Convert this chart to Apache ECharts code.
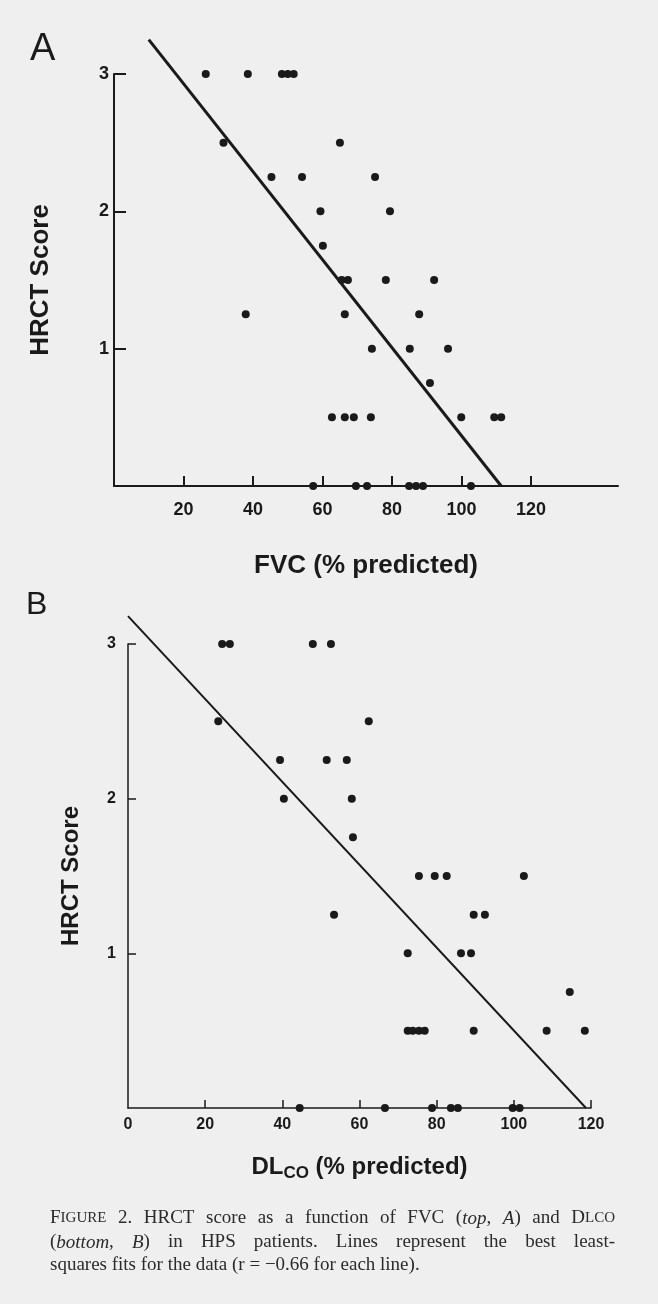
<!DOCTYPE html>
<html>
<head>
<meta charset="utf-8">
<script src="https://cdn.jsdelivr.net/npm/echarts@6.0.0/dist/echarts.min.js"></script>
<style>
  html, body { margin: 0; padding: 0; background: #efefef; }
  #chart { width: 658px; height: 1304px; }
</style>
</head>
<body>
<div id="chart"></div>
<script>
// panel A: HRCT score vs FVC
const fvcA = [26.4, 38.5, 48.3, 50.0, 51.7, 31.5, 65.0, 45.3, 54.1, 75.1, 59.4, 79.4, 60.1,
    65.5, 67.3, 78.2, 92.1, 37.9, 66.4, 87.8, 74.2, 85.1, 96.1, 90.9,
    62.7, 66.4, 69.0, 73.9, 99.9, 109.4, 111.4, 57.3, 69.6, 72.8, 84.9, 86.9, 88.9, 102.7];
const scoreA = [3, 3, 3, 3, 3, 2.5, 2.5, 2.25, 2.25, 2.25, 2, 2, 1.75,
    1.5, 1.5, 1.5, 1.5, 1.25, 1.25, 1.25, 1, 1, 1, 0.75,
    0.5, 0.5, 0.5, 0.5, 0.5, 0.5, 0.5, 0, 0, 0, 0, 0, 0, 0];
const fitAx = [10, 111.4];
const fitAy = [3.25, 0];

// panel B: HRCT score vs DLCO
const dlcoB = [24.4, 26.4, 47.9, 52.6, 23.4, 62.4, 39.4, 51.5, 56.7, 40.4, 58.0, 58.3,
    75.4, 79.5, 82.6, 102.6, 53.4, 89.6, 92.5, 72.5, 86.3, 88.9, 114.5,
    72.5, 73.8, 75.4, 76.9, 89.6, 108.5, 118.4, 44.5, 66.6, 78.8, 83.7, 85.5, 99.7, 101.5];
const scoreB = [3, 3, 3, 3, 2.5, 2.5, 2.25, 2.25, 2.25, 2, 2, 1.75,
    1.5, 1.5, 1.5, 1.5, 1.25, 1.25, 1.25, 1, 1, 1, 0.75,
    0.5, 0.5, 0.5, 0.5, 0.5, 0.5, 0.5, 0, 0, 0, 0, 0, 0, 0];
const fitBx = [0, 118.7];
const fitBy = [3.18, 0];

// ticks
const xTicksA = [20, 40, 60, 80, 100, 120];
const xLabelsB = [0, 20, 40, 60, 80, 100, 120];
const xTicksB = [20, 40, 60, 80, 100, 120];
const yTicks = [1, 2, 3];

// caption, word by word: [style, text] pieces
const captionLine1 = [[['n', 'F'], ['sc', 'IGURE']], [['n', '2.']], 'HRCT', 'score', 'as', 'a', 'function', 'of', 'FVC',
    [['n', '('], ['i', 'top'], ['n', ',']], [['i', 'A'], ['n', ')']], 'and', [['n', 'D'], ['sc', 'LCO']]];
const captionLine2 = [[['n', '('], ['i', 'bottom'], ['n', ',']], [['i', 'B'], ['n', ')']], 'in', 'HPS', 'patients.',
    'Lines', 'represent', 'the', 'best', 'least-'];
const captionLine3 = ['squares', 'fits', 'for', 'the', 'data', '(r', '=', '\u22120.66', 'for', 'each', 'line).'];

const ink = '#1a1a1a';
const capInk = '#2b2b2b';
const sans = '"Liberation Sans", Arial, Helvetica, sans-serif';
const serif = '"Liberation Serif", "Times New Roman", serif';
const capSize = 19;

const pairs = (xs, ys) => xs.map((x, i) => [x, ys[i]]);

const capFonts = {
    n: capSize + 'px ' + serif,
    sc: Math.round(capSize * 0.78) + 'px ' + serif,
    i: 'italic ' + capSize + 'px ' + serif
};

const measureCtx = document.createElement('canvas').getContext('2d');
const pieceWidth = (style, text) => {
    measureCtx.font = capFonts[style];
    return measureCtx.measureText(text).width;
};

// builds one caption line as rich text; justified lines get stretched spaces
const buildLine = (words, key, justifyTo) => {
    const parts = words.map((w) => (typeof w === 'string' ? [['n', w]] : w));
    let wordsWidth = 0;
    parts.forEach((p) => p.forEach(([s, t]) => { wordsWidth += pieceWidth(s, t); }));
    const space = justifyTo ? (justifyTo - wordsWidth) / (parts.length - 1) : pieceWidth('n', ' ');
    const rich = {
        n: { font: capFonts.n, color: capInk },
        sc: { font: capFonts.sc, color: capInk },
        i: { font: capFonts.i, color: capInk }
    };
    rich[key] = { font: capFonts.n, width: space };
    const text = parts.map((p) => p.map(([s, t]) => '{' + s + '|' + t + '}').join('')).join('{' + key + '| }');
    return { text, rich };
};

const captionText = (line, top) => {
    return {
        type: 'text',
        left: 50,
        top: top,
        style: { text: line.text, rich: line.rich, fill: capInk }
    };
};

const xAxisOpt = (grid, max, ticks, labels, width, tickLen, fontSize, margin) => {
    return {
        gridIndex: grid,
        type: 'value',
        min: 0,
        max: max,
        splitLine: { show: false },
        axisLine: { lineStyle: { color: ink, width: width } },
        axisTick: { inside: true, length: tickLen, customValues: ticks, lineStyle: { color: ink, width: width } },
        axisLabel: { customValues: labels, margin: margin, fontSize: fontSize, fontWeight: 'bold', fontFamily: sans, color: ink }
    };
};

const yAxisOpt = (grid, width, tickLen, fontSize, margin) => {
    return {
        gridIndex: grid,
        type: 'value',
        min: 0,
        max: 3,
        splitLine: { show: false },
        axisLine: { lineStyle: { color: ink, width: width } },
        axisTick: { inside: true, length: tickLen, customValues: yTicks, lineStyle: { color: ink, width: width } },
        axisLabel: { customValues: yTicks, margin: margin, fontSize: fontSize, fontWeight: 'bold', fontFamily: sans, color: ink },
        name: 'HRCT Score',
        nameLocation: 'middle',
        nameRotate: 90
    };
};

const xA = xAxisOpt(0, 145, xTicksA, xTicksA, 2, 10, 18, 15);
xA.name = 'FVC (% predicted)';
xA.nameLocation = 'middle';
xA.nameGap = 67;
xA.nameTextStyle = { fontSize: 26, fontWeight: 'bold', fontFamily: sans, color: ink };

const xB = xAxisOpt(1, 120, xTicksB, xLabelsB, 1.5, 8, 16, 9);
xB.name = '{a|DL}{b|CO}{a| (% predicted)}';
xB.nameLocation = 'middle';
xB.nameGap = 44;
xB.nameTextStyle = {
    rich: {
        a: { fontSize: 24, fontWeight: 'bold', fontFamily: sans, color: ink, lineHeight: 30, verticalAlign: 'middle' },
        b: { fontSize: 17, fontWeight: 'bold', fontFamily: sans, color: ink, lineHeight: 30, verticalAlign: 'bottom' }
    }
};

const yA = yAxisOpt(0, 2, 12, 18, 5);
yA.nameGap = 60;
yA.nameTextStyle = { fontSize: 26, fontWeight: 'bold', fontFamily: sans, color: ink };

const yB = yAxisOpt(1, 1.5, 8, 16, 12);
yB.nameGap = 45;
yB.nameTextStyle = { fontSize: 24, fontWeight: 'bold', fontFamily: sans, color: ink };

const option = {
    backgroundColor: '#efefef',
    animation: false,
    grid: [
        { left: 114, top: 74, width: 504, height: 412 },
        { left: 128, top: 644, width: 463, height: 464 }
    ],
    xAxis: [xA, xB],
    yAxis: [yA, yB],
    graphic: [
        { type: 'text', left: 30, top: 31, style: { text: 'A', font: '38px ' + sans, fill: ink } },
        { type: 'text', left: 26, top: 589, style: { text: 'B', font: '32px ' + sans, fill: ink } },
        captionText(buildLine(captionLine1, 'sp1', 565), 1209),
        captionText(buildLine(captionLine2, 'sp2', 565), 1233),
        captionText(buildLine(captionLine3, 'sp3', 0), 1256)
    ],
    series: [
        {
            type: 'scatter', xAxisIndex: 0, yAxisIndex: 0, clip: false,
            symbolSize: 8, itemStyle: { color: ink, opacity: 1 },
            data: pairs(fvcA, scoreA)
        },
        {
            type: 'line', xAxisIndex: 0, yAxisIndex: 0, clip: false, silent: true,
            symbol: 'none', lineStyle: { color: ink, width: 3 },
            data: pairs(fitAx, fitAy)
        },
        {
            type: 'scatter', xAxisIndex: 1, yAxisIndex: 1, clip: false,
            symbolSize: 8, itemStyle: { color: ink, opacity: 1 },
            data: pairs(dlcoB, scoreB)
        },
        {
            type: 'line', xAxisIndex: 1, yAxisIndex: 1, clip: false, silent: true,
            symbol: 'none', lineStyle: { color: ink, width: 2 },
            data: pairs(fitBx, fitBy)
        }
    ]
};

const chart = echarts.init(document.getElementById('chart'));
chart.setOption(option);
</script>
</body>
</html>
